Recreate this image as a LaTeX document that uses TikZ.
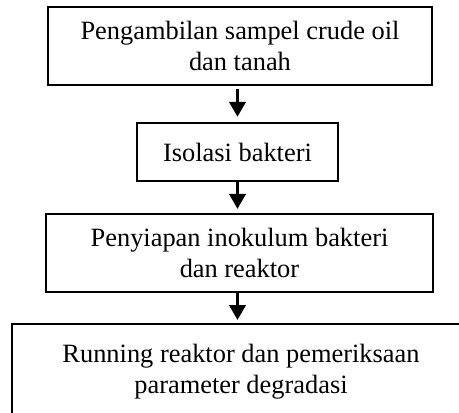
\documentclass[tikz,border=0pt]{standalone}
\usepackage{fontspec}
\setmainfont{Liberation Serif}
\usetikzlibrary{arrows.meta, positioning}

\def\pxl{0.4545pt}
\tikzset{
	stepbox/.style={draw, line width=1pt, align=center, inner sep=0pt,
		font=\fontsize{12}{14.1}\selectfont},
	flow/.style={-{Triangle[length=6.8pt, width=7.3pt]}, line width=1.6pt},
}

\begin{document}
\begin{tikzpicture}[x=\pxl, y=-\pxl]
		\useasboundingbox (0,0) rectangle (459,413);
		
		\node [stepbox, minimum width=384*\pxl, minimum height=78*\pxl] (sampel) at (240,46)
			{Pengambilan sampel crude oil\\dan tanah};
		\node [stepbox, minimum width=201*\pxl, minimum height=58*\pxl] (isolasi) at (237.5,152)
			{Isolasi bakteri};
		\node [stepbox, minimum width=387*\pxl, minimum height=78*\pxl] (inokulum) at (239.5,253)
			{Penyiapan inokulum bakteri\\dan reaktor};
		
		% last box runs off the page on the right and bottom
		\coordinate (runbox) at (12,324);
		\draw [line width=1pt] (12,413) -- (runbox) -- (459,324);
			\node [font=\fontsize{12}{14.1}\selectfont, align=center] (running) at (241,372)
				{Running reaktor dan pemeriksaan\\parameter degradasi};
		
		\draw [flow, shorten <=1.4pt, shorten >=2.3pt] (isolasi |- sampel.south) -- (isolasi.north);
		\draw [flow, shorten >=1.8pt] (isolasi.south) -- (isolasi |- inokulum.north);
		\draw [flow, shorten >=1.8pt] (isolasi |- inokulum.south) -- (isolasi |- runbox);
	\end{tikzpicture}
\end{document}
